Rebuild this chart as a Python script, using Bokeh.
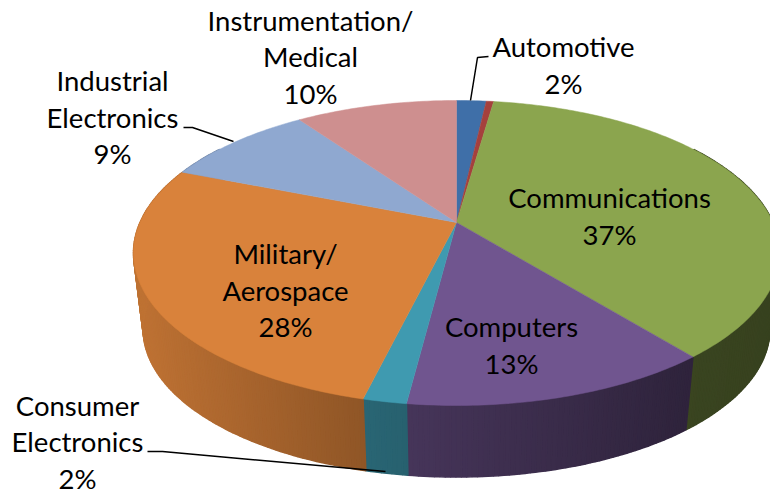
import numpy as np
from bokeh.plotting import figure
from bokeh.models import Range1d
from bokeh.core.properties import value
from bokeh.embed import file_html
from bokeh.resources import INLINE

# slice shares (clockwise from 12 o'clock)
slices = ["Automotive", "Other", "Communications", "Computers", "Consumer Electronics",
          "Military/Aerospace", "Industrial Electronics", "Instrumentation/Medical"]
shares = [1.8, 0.45, 36.9, 12.9, 1.8, 27.2, 9.2, 9.8]
colors = ["#3F6FA8", "#A5403D", "#8BA54E", "#70558F", "#3F9AB0", "#D9823B", "#8FA8D0", "#CE8F8F"]

label_lines = [["Instrumentation/", "Medical", "10%"], ["Automotive", "2%"],
               ["Industrial", "Electronics", "9%"], ["Communications", "37%"],
               ["Military/", "Aerospace", "28%"], ["Computers", "13%"],
               ["Consumer", "Electronics", "2%"]]
label_x = [310, 563, 112, 609, 285, 511, 77]
label_y = [19.5, 46, 80, 197, 253, 326, 404.5]
LINE = 36.5

leaders = [([488, 477, 470], [56, 57, 100]),
           ([183, 192, 233], [127, 127, 141]),
           ([147, 162, 385], [451, 451, 471])]

CX, CY, A, B, K = 456, 222, 316.5, 146.4, 0.2
DROP, SHRINK = 77, 0.97
SHADE_X, SHADE_F = [133, 366, 690, 770], [0.88, 0.66, 0.42, 0.40]


def rim(theta, shrink=1.0, drop=0.0):
    x, y = np.sin(theta), np.cos(theta)
    s = 1 / (1 + K * y)
    return CX + shrink * A * x * s, CY + drop - shrink * B * y * s


def shade(hex_color, f):
    r, g, b = (int(hex_color[i:i + 2], 16) for i in (1, 3, 5))
    return "#%02x%02x%02x" % (int(r * f), int(g * f), int(b * f))


p = figure(width=770, height=494, x_range=Range1d(0, 770), y_range=Range1d(494, 0),
           output_backend="svg", toolbar_location=None, min_border=0)
p.axis.visible = False
p.grid.visible = False
p.outline_line_color = None

edges = np.concatenate([[0], np.cumsum(shares)]) / np.sum(shares) * 2 * np.pi
STEP = np.radians(0.8)

# side wall
xs, ys, fc = [], [], []
for (a0, a1, col) in zip(edges[:-1], edges[1:], colors):
    n = max(2, int((a1 - a0) / STEP) + 1)
    t = np.linspace(a0, a1, n)
    for u, v in zip(t[:-1], t[1:]):
        if np.cos((u + v) / 2) > 0.55:
            continue
        x0, y0 = rim(u)
        x1, y1 = rim(v)
        x2, y2 = rim(v, SHRINK, DROP)
        x3, y3 = rim(u, SHRINK, DROP)
        xs.append([x0, x1, x2, x3])
        ys.append([y0, y1, y2, y3])
        fc.append(shade(col, float(np.interp((x0 + x1) / 2, SHADE_X, SHADE_F))))
p.patches(xs, ys, fill_color=fc, line_color=fc, line_width=1.5)

# top face
xs, ys = [], []
for (a0, a1) in zip(edges[:-1], edges[1:]):
    t = np.linspace(a0, a1, max(3, int((a1 - a0) / STEP) + 1))
    rx, ry = rim(t)
    xs.append([CX, *rx])
    ys.append([CY, *ry])
p.patches(xs, ys, fill_color=colors, line_color=colors, line_width=0.5)

for lx, ly in leaders:
    p.line(lx, ly, line_color="black", line_width=1.5)

tx, ty, tt = [], [], []
for lines, x, y in zip(label_lines, label_x, label_y):
    for i, s in enumerate(lines):
        tx.append(x)
        ty.append(y + i * LINE)
        tt.append(s)
p.text(tx, ty, text=tt, text_font=value("Lato"), text_font_size="27.5px", text_color="black",
       text_align="center", text_baseline="middle")

open("out.html", "w").write(file_html(p, INLINE))
